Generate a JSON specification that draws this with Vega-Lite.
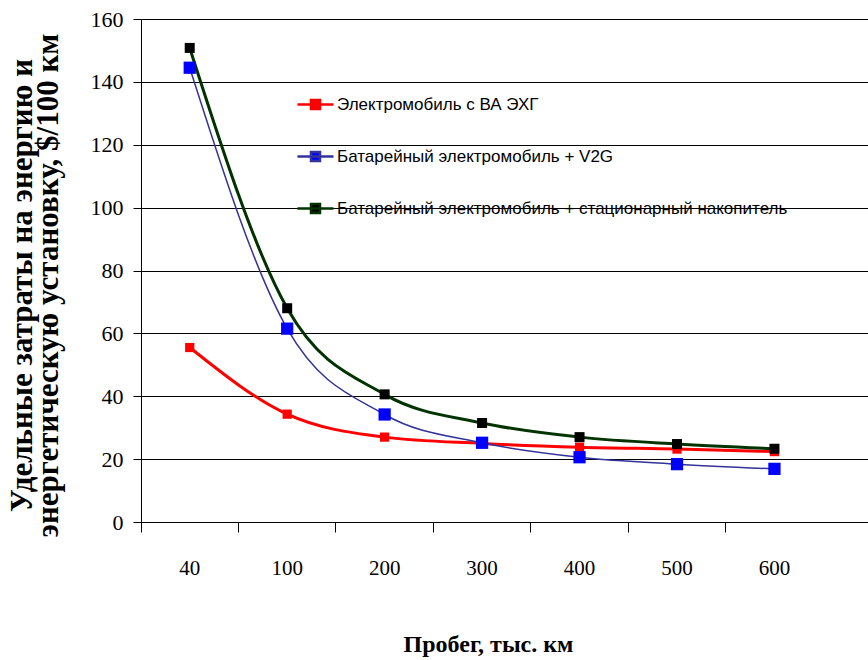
{
  "$schema": "https://vega.github.io/schema/vega-lite/v6.json",
  "autosize": {"type": "none"},
  "padding": {"left": 141, "top": 19, "right": 0, "bottom": 138},
  "width": 727,
  "height": 503,
  "background": "white",
  "config": {
    "view": {"stroke": null}
  },
  "data": {
    "values": [
      {"km": "40", "series": "Электромобиль с ВА ЭХГ", "value": 55.5},
      {"km": "100", "series": "Электромобиль с ВА ЭХГ", "value": 34.3},
      {"km": "200", "series": "Электромобиль с ВА ЭХГ", "value": 27.0},
      {"km": "300", "series": "Электромобиль с ВА ЭХГ", "value": 25.0},
      {"km": "400", "series": "Электромобиль с ВА ЭХГ", "value": 23.8},
      {"km": "500", "series": "Электромобиль с ВА ЭХГ", "value": 23.2},
      {"km": "600", "series": "Электромобиль с ВА ЭХГ", "value": 22.4},
      {"km": "40", "series": "Батарейный электромобиль + V2G", "value": 144.5},
      {"km": "100", "series": "Батарейный электромобиль + V2G", "value": 61.5},
      {"km": "200", "series": "Батарейный электромобиль + V2G", "value": 34.2},
      {"km": "300", "series": "Батарейный электромобиль + V2G", "value": 25.2},
      {"km": "400", "series": "Батарейный электромобиль + V2G", "value": 20.6},
      {"km": "500", "series": "Батарейный электромобиль + V2G", "value": 18.4},
      {"km": "600", "series": "Батарейный электромобиль + V2G", "value": 16.9},
      {"km": "40", "series": "Батарейный электромобиль + стационарный накопитель", "value": 150.8},
      {"km": "100", "series": "Батарейный электромобиль + стационарный накопитель", "value": 68.0},
      {"km": "200", "series": "Батарейный электромобиль + стационарный накопитель", "value": 40.6},
      {"km": "300", "series": "Батарейный электромобиль + стационарный накопитель", "value": 31.5},
      {"km": "400", "series": "Батарейный электромобиль + стационарный накопитель", "value": 27.0},
      {"km": "500", "series": "Батарейный электромобиль + стационарный накопитель", "value": 24.8},
      {"km": "600", "series": "Батарейный электромобиль + стационарный накопитель", "value": 23.3}
    ]
  },
  "encoding": {
    "x": {
      "field": "km",
      "type": "nominal",
      "sort": null,
      "scale": {"type": "band", "paddingInner": 0, "paddingOuter": 0.23, "align": 0},
      "axis": {
        "title": "Пробег, тыс. км",
        "titleFont": "Liberation Serif",
        "titleFontWeight": "bold",
        "titleFontSize": 24,
        "titleColor": "black",
        "titlePadding": 54,
        "titleX": 347,
        "labelFont": "Liberation Serif",
        "labelFontSize": 21,
        "labelColor": "black",
        "labelAngle": 0,
        "labelPadding": 25,
        "bandPosition": 0,
        "tickSize": 10,
        "tickColor": "black",
        "domainColor": "black",
        "grid": false
      }
    },
    "y": {
      "field": "value",
      "type": "quantitative",
      "scale": {"domain": [0, 160], "nice": false},
      "axis": {
        "title": ["Удельные затраты на энергию и", "энергетическую установку, $/100 км"],
        "titleFont": "Liberation Serif",
        "titleFontWeight": "bold",
        "titleFontSize": 31,
        "titleLineHeight": 26,
        "titleColor": "black",
        "titlePadding": 26,
        "titleY": 266,
        "values": [0, 20, 40, 60, 80, 100, 120, 140, 160],
        "labelFont": "Liberation Serif",
        "labelFontSize": 22,
        "labelColor": "black",
        "labelPadding": 10,
        "tickSize": 8,
        "tickColor": "black",
        "domainColor": "black",
        "grid": true,
        "gridColor": "black",
        "gridOpacity": 1,
        "gridWidth": 1
      }
    },
    "stroke": {
      "field": "series",
      "type": "nominal",
      "scale": {
        "domain": ["Электромобиль с ВА ЭХГ", "Батарейный электромобиль + V2G", "Батарейный электромобиль + стационарный накопитель"],
        "range": ["#ff0000", "#333399", "#003300"]
      },
      "legend": {
        "orient": "none",
        "legendX": 155,
        "legendY": 66,
        "padding": 0,
        "title": null,
        "labelFont": "Liberation Sans",
        "labelFontSize": 17,
        "labelColor": "black",
        "labelLimit": 0,
        "labelOffset": 2,
        "rowPadding": 22,
        "symbolType": "M-1,0H1M-0.25,-0.25H0.25V0.25H-0.25Z",
        "symbolSize": 1300,
        "symbolStrokeWidth": 2.5
      }
    }
  },
  "layer": [
    {
      "transform": [{"filter": "datum.series !== 'Батарейный электромобиль + V2G'"}],
      "mark": {"type": "line", "interpolate": "monotone", "strokeWidth": 3}
    },
    {
      "transform": [{"filter": "datum.series === 'Батарейный электромобиль + V2G'"}],
      "mark": {"type": "line", "interpolate": "monotone", "strokeWidth": 1.5}
    },
    {
      "transform": [{"filter": "datum.series === 'Электромобиль с ВА ЭХГ'"}],
      "mark": {"type": "point", "shape": "square", "filled": true, "opacity": 1, "strokeWidth": 0, "size": 85},
      "encoding": {
        "fill": {
          "field": "series",
          "type": "nominal",
          "scale": {
            "domain": ["Электромобиль с ВА ЭХГ", "Батарейный электромобиль + V2G", "Батарейный электромобиль + стационарный накопитель"],
            "range": ["#ff0000", "#0000ff", "#000000"]
          },
          "legend": {
            "orient": "none",
            "legendX": 155,
            "legendY": 66,
            "padding": 0,
            "title": null,
            "labelFont": "Liberation Sans",
            "labelFontSize": 17,
            "labelColor": "black",
            "labelLimit": 0,
            "labelOffset": 2,
            "rowPadding": 22,
            "symbolType": "M-1,0H1M-0.25,-0.25H0.25V0.25H-0.25Z",
            "symbolSize": 1300,
            "symbolStrokeWidth": 2.5
          }
        }
      }
    },
    {
      "transform": [{"filter": "datum.series === 'Батарейный электромобиль + V2G'"}],
      "mark": {"type": "point", "shape": "square", "filled": true, "opacity": 1, "strokeWidth": 0, "size": 150},
      "encoding": {
        "fill": {"field": "series", "type": "nominal"}
      }
    },
    {
      "transform": [{"filter": "datum.series === 'Батарейный электромобиль + стационарный накопитель'"}],
      "mark": {"type": "point", "shape": "square", "filled": true, "opacity": 1, "strokeWidth": 0, "size": 100},
      "encoding": {
        "fill": {"field": "series", "type": "nominal"}
      }
    }
  ]
}
